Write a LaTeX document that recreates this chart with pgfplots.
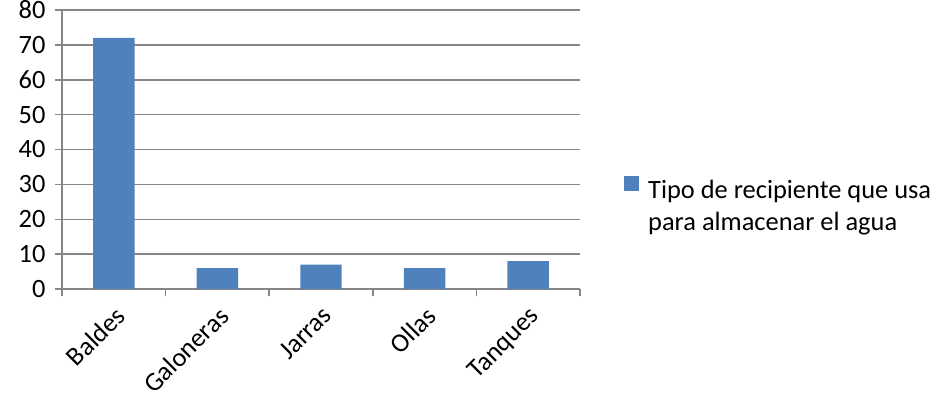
\documentclass[border=0pt]{standalone}
\usepackage{fontspec}
\setmainfont{Carlito}
\usepackage{pgfplots}
\pgfplotsset{compat=1.18}
\definecolor{barblue}{HTML}{4F81BD}
\definecolor{gridgray}{HTML}{868686}
\begin{document}
\begin{tikzpicture}
\useasboundingbox (0,0) rectangle (936bp,399bp);
\begin{axis}[
  at={(62bp,110bp)}, anchor=south west,
  scale only axis, width=518bp, height=279bp,
  ymin=0, ymax=80, ytick={0,10,...,80},
  xmin=-0.5, xmax=4.5,
  xtick={0,1,2,3,4},
  xticklabels={Baldes,Galoneras,Jarras,Ollas,Tanques},
  major x tick style={draw=none},
  minor xtick={-0.5,0.5,1.5,2.5,3.5,4.5},
  axis x line*=bottom, axis y line*=left,
  axis line style={gridgray, line width=1.5bp, -},
  ymajorgrids, grid style={gridgray, line width=1.5bp},
  tick align=outside, major tick length=7bp, minor tick length=7bp,
  tick style={gridgray, line width=1.5bp},
  /pgf/number format/assume math mode=true,
  tick label style={font=\fontsize{26.5}{30}\selectfont, text=black},
  xticklabel style={yshift=-6bp, rotate=45, anchor=north east, inner sep=2bp},
  yticklabel style={xshift=-6bp},
  legend style={at={(1.085,0.404)}, anchor=north west, draw=none, fill=none,
    font=\fontsize{26.5}{32.5}\selectfont, inner sep=0pt,
    cells={anchor=north west, align=left}},
  legend image code/.code={\fill[barblue] (0bp,-14bp) rectangle (15bp,1bp); \path (22bp,0bp);},
]
\addplot[ybar, bar width=0.4, fill=barblue, draw=none] coordinates {(0,72) (1,6) (2,7) (3,6) (4,8)};
\addlegendentry{Tipo de recipiente que usa\\para almacenar el agua}
\end{axis}
\end{tikzpicture}
\end{document}
